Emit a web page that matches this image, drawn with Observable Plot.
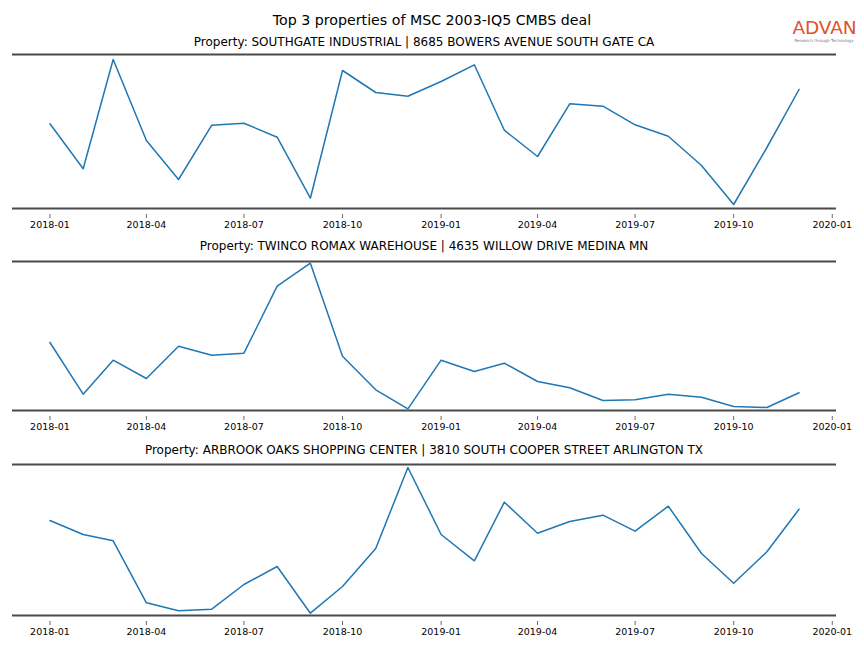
<!DOCTYPE html>
<html>
<head>
<meta charset="utf-8">
<script src="https://cdn.jsdelivr.net/npm/d3@7"></script>
<script src="https://cdn.jsdelivr.net/npm/@observablehq/plot@0.6"></script>
<style>
  body { margin: 0; background: #fff; font-family: "DejaVu Sans", sans-serif; }
  #fig { position: relative; width: 864px; height: 648px; overflow: hidden; }
  .t { position: absolute; white-space: nowrap; color: #000; transform: translate(-50%, -50%); }
  .panel { position: absolute; left: 0; }
</style>
</head>
<body>
<div id="fig"></div>
<script>
// ---- data (relative index values) ----
const months = ["2018-01","2018-02","2018-03","2018-04","2018-05","2018-06","2018-07","2018-08","2018-09","2018-10","2018-11","2018-12",
                "2019-01","2019-02","2019-03","2019-04","2019-05","2019-06","2019-07","2019-08","2019-09","2019-10","2019-11","2019-12"];
const tickLabels = ["2018-01","2018-04","2018-07","2018-10","2019-01","2019-04","2019-07","2019-10","2020-01"];
const mainTitle = "Top 3 properties of MSC 2003-IQ5 CMBS deal";
const panelTitles = [
  "Property: SOUTHGATE INDUSTRIAL | 8685 BOWERS AVENUE SOUTH GATE CA",
  "Property: TWINCO ROMAX WAREHOUSE | 4635 WILLOW DRIVE MEDINA MN",
  "Property: ARBROOK OAKS SHOPPING CENTER | 3810 SOUTH COOPER STREET ARLINGTON TX"
];
const southgate = [84.7, 39.7, 149, 68, 29, 83.3, 85.3, 71.3, 10.3, 138, 116, 112.3,
                   127, 143.7, 78.3, 52, 104.7, 102.3, 83.7, 72.3, 43, 4, 61, 119];
const twinco    = [68, 16.3, 50.3, 32, 64.3, 55.3, 57.3, 124.3, 147.3, 54.3, 20.7, 1.7,
                   50.3, 39, 47.3, 29, 22.7, 10, 10.7, 16.3, 13.3, 4, 3, 17.7];
const arbrook   = [95, 81, 74.7, 12.7, 4.7, 6.3, 31, 49, 2.3, 29, 67, 148,
                   81, 54.7, 113.3, 82.3, 94, 100.3, 84.3, 109.3, 62, 32.3, 63.7, 106.3];
const series = [southgate, twinco, arbrook];
const yMax = [154, 149, 151];

// ---- layout ----
const fig = document.getElementById("fig");
const panelTop = [54, 261, 464];
const titleY = [42, 246, 450];
const mT = 6, mB = 26;

function addText(txt, x, y, size, extra) {
  const d = document.createElement("div");
  d.className = "t";
  d.textContent = txt;
  d.style.left = x + "px";
  d.style.top = y + "px";
  d.style.fontSize = size + "px";
  if (extra) Object.assign(d.style, extra);
  fig.appendChild(d);
}
addText(mainTitle, 432, 20, 14.2);

// logo
const logo = document.createElementNS("http://www.w3.org/2000/svg", "svg");
logo.setAttribute("width", 80); logo.setAttribute("height", 36);
logo.style.position = "absolute"; logo.style.left = "784px"; logo.style.top = "10px";
logo.innerHTML = `<text x="40.5" y="24" text-anchor="middle" font-family="DejaVu Sans" font-size="18.5" fill="#e2512a" letter-spacing="-0.1">ADVAN</text>
<text x="40" y="32" text-anchor="middle" font-family="DejaVu Sans" font-size="4" fill="#777">Research through Technology</text>`;
fig.appendChild(logo);

const first = new Date(Date.UTC(2018, 0, 1)), last = new Date(Date.UTC(2019, 11, 1));
const pad = (last - first) * 0.05;
const xDomain = [new Date(+first - pad), new Date(+last + pad)];
const tickDates = tickLabels.map(s => new Date(s + "-01T00:00:00Z"));

series.forEach((vals, i) => {
  const data = months.map((m, j) => ({date: new Date(m + "-01T00:00:00Z"), value: vals[j]}));
  const yDomain = [0, yMax[i]];
  const chart = Plot.plot({
    width: 864,
    height: mT + yMax[i] + mB,
    marginTop: mT, marginBottom: mB, marginLeft: 12, marginRight: 28,
    x: {type: "utc", domain: xDomain},
    y: {domain: yDomain, axis: null},
    style: {fontFamily: "DejaVu Sans", fontSize: "9.5px", color: "#000", background: "transparent", overflow: "visible"},
    marks: [
      Plot.axisX({ticks: tickDates, tickFormat: d3.utcFormat("%Y-%m"), tickSize: 4, tickPadding: 2.5, dy: 6, stroke: "#444", strokeWidth: 0.8, label: null}),
      Plot.ruleY(yDomain, {stroke: "#4a4a4a", strokeWidth: 2}),
      Plot.line(data, {x: "date", y: "value", stroke: "#1f77b4", strokeWidth: 1.5})
    ]
  });
  const wrap = document.createElement("div");
  wrap.className = "panel";
  wrap.style.top = (panelTop[i] - mT) + "px";
  wrap.appendChild(chart);
  fig.appendChild(wrap);
  addText(panelTitles[i], 424, titleY[i], 12);
});
</script>
</body>
</html>
